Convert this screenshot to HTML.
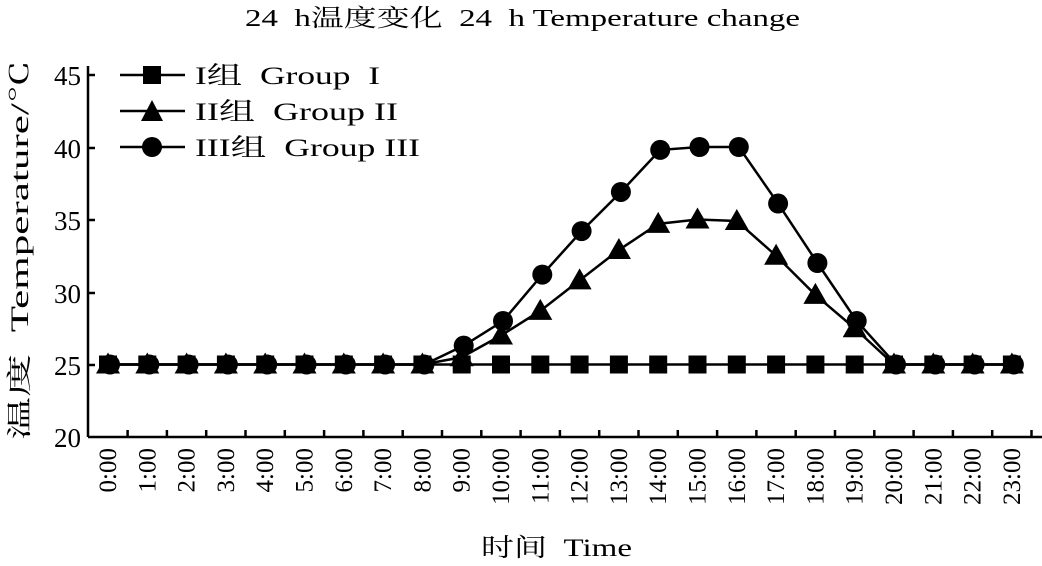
<!DOCTYPE html>
<html><head><meta charset="utf-8"><style>
body{margin:0;background:#fff;}
svg text{font-family:"Liberation Serif","Noto Serif CJK SC",serif;fill:#000;white-space:pre;}
</style></head><body>
<svg width="1042" height="561" viewBox="0 0 1042 561" xmlns="http://www.w3.org/2000/svg">
<text x="245" y="26" font-size="24" textLength="555" lengthAdjust="spacingAndGlyphs">24  h温度变化  24  h Temperature change</text>
<g stroke="#000" stroke-width="2.5" fill="none">
<line x1="88" y1="66" x2="88" y2="437"/>
<line x1="88" y1="437" x2="1042" y2="437"/>
<line x1="88" y1="75" x2="95" y2="75"/><line x1="88" y1="148" x2="95" y2="148"/>
<line x1="88" y1="220" x2="95" y2="220"/><line x1="88" y1="293" x2="95" y2="293"/>
<line x1="88" y1="365" x2="95" y2="365"/>
</g>
<g font-size="27" text-anchor="end">
<text x="81" y="85">45</text><text x="81" y="158">40</text><text x="81" y="230">35</text>
<text x="81" y="303">30</text><text x="81" y="375">25</text><text x="81" y="447">20</text>
</g>
<text transform="translate(28,440) rotate(-90)" font-size="25" textLength="380" lengthAdjust="spacingAndGlyphs">温度  Temperature/℃</text>
<text x="481" y="556" font-size="25" textLength="151" lengthAdjust="spacingAndGlyphs">时间  Time</text>
<g id="xl" font-size="25" text-anchor="end"></g>
<g id="xt" stroke="#000" stroke-width="2.5"></g>
<g id="series"></g>
<g stroke="#000" stroke-width="2.5">
<line x1="120" y1="75" x2="185" y2="75"/><line x1="120" y1="111" x2="185" y2="111"/><line x1="120" y1="147" x2="185" y2="147"/>
</g>
<rect x="143" y="66" width="18" height="18"/>
<polygon points="152,100 163,121 141,121"/>
<circle cx="152" cy="147" r="10"/>
<g font-size="25">
<text x="195" y="84" textLength="185" lengthAdjust="spacingAndGlyphs">I组  Group  I</text>
<text x="195" y="120" textLength="203" lengthAdjust="spacingAndGlyphs">II组  Group II</text>
<text x="195" y="156" textLength="225" lengthAdjust="spacingAndGlyphs">III组  Group III</text>
</g>
</svg>
<script>
const ns="http://www.w3.org/2000/svg";
const X=h=>108+h*39.3, Y=v=>437-(v-20)*14.5;
const xl=document.getElementById('xl'), xt=document.getElementById('xt'), s=document.getElementById('series');
for(let h=0;h<24;h++){
 const t=document.createElementNS(ns,'text');
 t.setAttribute('transform',`translate(${X(h)+8},448) rotate(-90)`);t.textContent=h+':00';xl.appendChild(t);
 const l=document.createElementNS(ns,'line');const x=X(h)+19.6;
 l.setAttribute('x1',x);l.setAttribute('x2',x);l.setAttribute('y1',437);l.setAttribute('y2',430);xt.appendChild(l);
}
const g1=Array(24).fill(25);
const g2=[25,25,25,25,25,25,25,25,25,25.5,27,28.7,30.8,32.9,34.7,35,34.9,32.5,29.8,27.5,25,25,25,25];
const g3=[25,25,25,25,25,25,25,25,25,26.3,28,31.2,34.2,36.9,39.8,40,40,36.1,32,28,25,25,25,25];
function line(d,dx){const p=document.createElementNS(ns,'polyline');
 p.setAttribute('points',d.map((v,h)=>(X(h)+dx)+','+Y(v)).join(' '));
 p.setAttribute('fill','none');p.setAttribute('stroke','#000');p.setAttribute('stroke-width','2.5');s.appendChild(p);}
line(g1,0);line(g2,0);line(g3,2);
g1.forEach((v,h)=>{const r=document.createElementNS(ns,'rect');r.setAttribute('x',X(h)-9);r.setAttribute('y',Y(v)-9);r.setAttribute('width',18);r.setAttribute('height',18);s.appendChild(r);});
g2.forEach((v,h)=>{const p=document.createElementNS(ns,'polygon');const x=X(h),y=Y(v);p.setAttribute('points',`${x},${y-12} ${x+12},${y+9} ${x-12},${y+9}`);s.appendChild(p);});
g3.forEach((v,h)=>{const c=document.createElementNS(ns,'circle');c.setAttribute('cx',X(h)+2);c.setAttribute('cy',Y(v));c.setAttribute('r',10);s.appendChild(c);});
</script>
</body></html>
